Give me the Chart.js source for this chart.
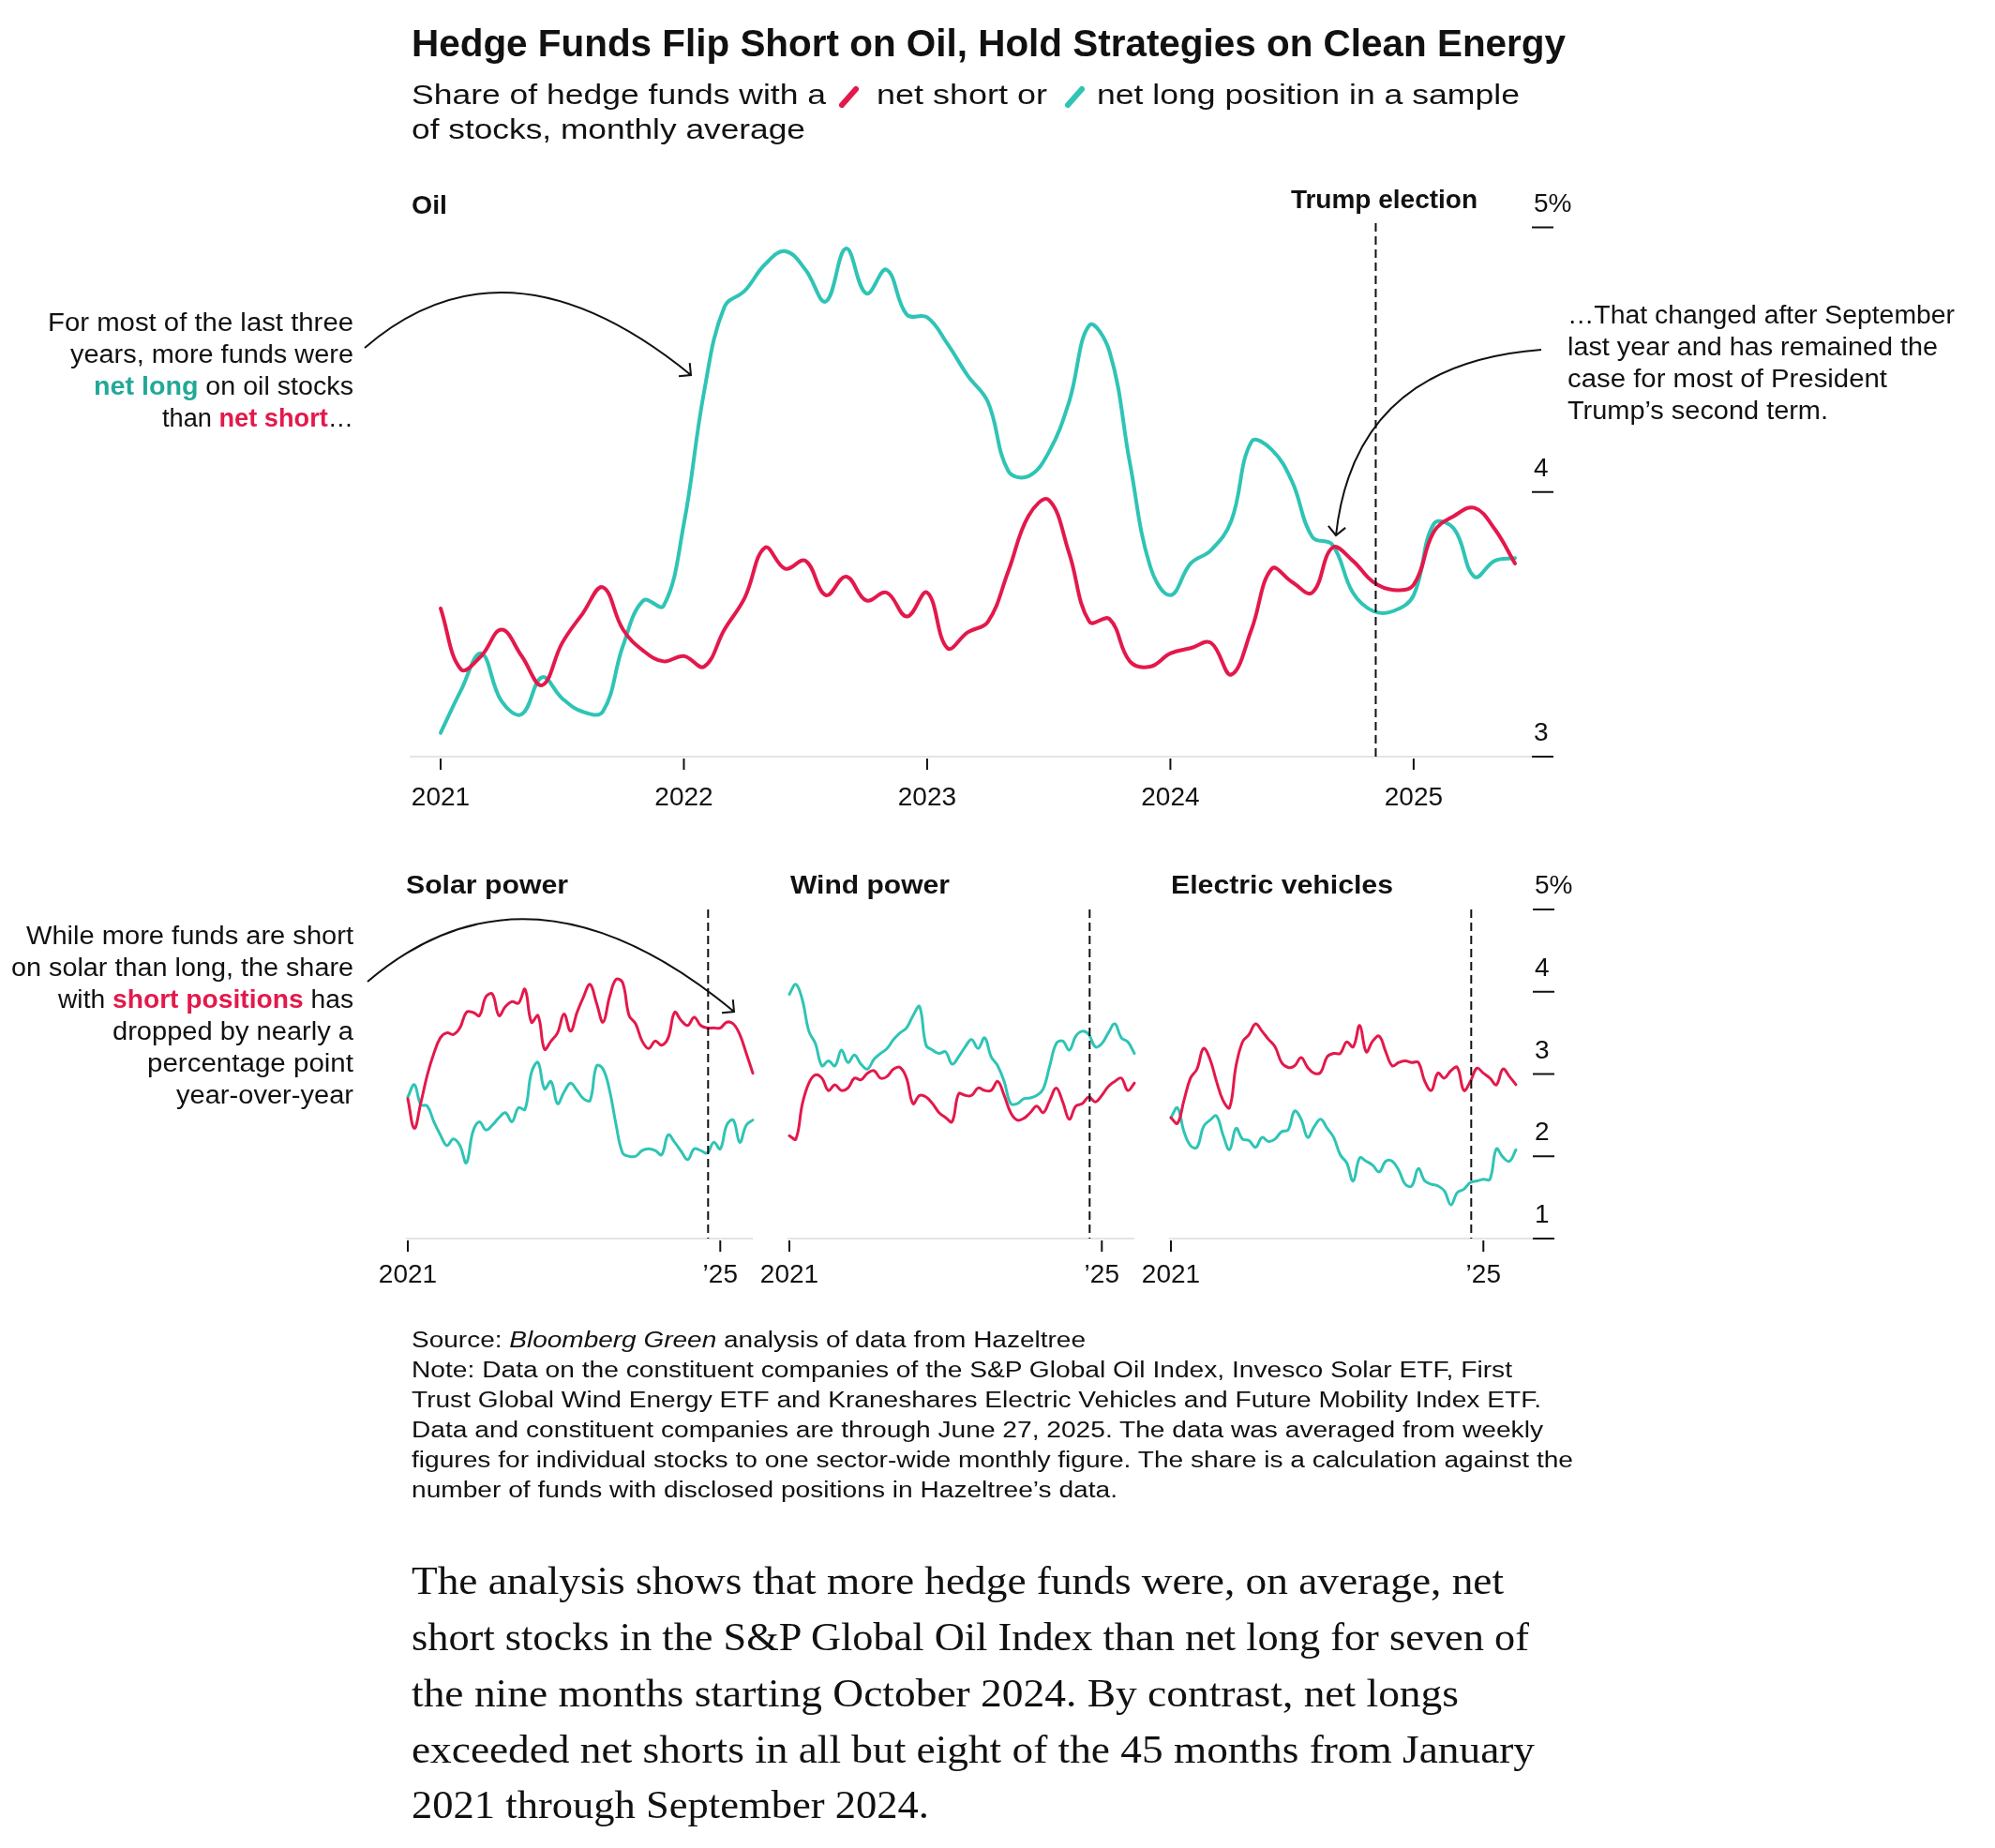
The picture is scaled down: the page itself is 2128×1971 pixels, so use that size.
<!DOCTYPE html>
<html>
<head>
<meta charset="utf-8">
<title>Hedge Funds Flip Short on Oil, Hold Strategies on Clean Energy</title>
<script src="https://cdn.jsdelivr.net/npm/chart.js@4.4.1/dist/chart.umd.min.js"></script>
<style>
  html, body { margin: 0; padding: 0; background: #fff; }
  #page { position: relative; width: 2128px; height: 1971px; overflow: hidden; }
  canvas { position: absolute; }
  #overlay { position: absolute; left: 0; top: 0; }
  #overlay text { font-family: "Liberation Sans", Arial, sans-serif; fill: #111; }
  #overlay .title { font-size: 41px; font-weight: bold; }
  #overlay .sub { font-size: 30px; }
  #overlay .panel { font-size: 28px; font-weight: bold; }
  #overlay .note { font-size: 27px; }
  #overlay .foot { font-size: 23px; }
  #overlay .body { font-family: "Liberation Serif", "DejaVu Serif", serif; font-size: 42px; }
  #overlay .long { font-weight: bold; fill: #22a898; }
  #overlay .short { font-weight: bold; fill: #e3194b; }
  #overlay path { fill: none; stroke: #111; stroke-width: 2; }
</style>
</head>
<body>
<div id="page">
  <canvas id="oil" width="1300" height="700" style="left:420px;top:180px;width:1300px;height:700px"></canvas>
  <canvas id="solar" width="420" height="470" style="left:400px;top:920px;width:420px;height:470px"></canvas>
  <canvas id="wind" width="420" height="470" style="left:810px;top:920px;width:420px;height:470px"></canvas>
  <canvas id="ev" width="505" height="470" style="left:1215px;top:920px;width:505px;height:470px"></canvas>

  <svg id="overlay" width="2128" height="1971">
    <text class="title" x="439" y="60" textLength="1231" lengthAdjust="spacingAndGlyphs">Hedge Funds Flip Short on Oil, Hold Strategies on Clean Energy</text>
    <text class="sub" x="439" y="111" textLength="442" lengthAdjust="spacingAndGlyphs">Share of hedge funds with a</text>
    <line x1="898" y1="112" x2="913" y2="95" stroke="#e3194b" stroke-width="6" stroke-linecap="round"/>
    <text class="sub" x="935" y="111" textLength="182" lengthAdjust="spacingAndGlyphs">net short or</text>
    <line x1="1139" y1="112" x2="1154" y2="95" stroke="#2fc4b5" stroke-width="6" stroke-linecap="round"/>
    <text class="sub" x="1170" y="111" textLength="451" lengthAdjust="spacingAndGlyphs">net long position in a sample</text>
    <text class="sub" x="439" y="148" textLength="420" lengthAdjust="spacingAndGlyphs">of stocks, monthly average</text>

    <text class="panel" x="439" y="228" textLength="38" lengthAdjust="spacingAndGlyphs">Oil</text>
    <text class="panel" x="433" y="953" textLength="173" lengthAdjust="spacingAndGlyphs">Solar power</text>
    <text class="panel" x="843" y="953" textLength="170" lengthAdjust="spacingAndGlyphs">Wind power</text>
    <text class="panel" x="1249" y="953" textLength="237" lengthAdjust="spacingAndGlyphs">Electric vehicles</text>

    <text class="note" x="377" y="353" text-anchor="end" textLength="326" lengthAdjust="spacingAndGlyphs">For most of the last three</text>
    <text class="note" x="377" y="387" text-anchor="end" textLength="302" lengthAdjust="spacingAndGlyphs">years, more funds were</text>
    <text class="note" x="377" y="421" text-anchor="end" textLength="277" lengthAdjust="spacingAndGlyphs"><tspan class="long">net long</tspan> on oil stocks</text>
    <text class="note" x="377" y="455" text-anchor="end" textLength="204" lengthAdjust="spacingAndGlyphs">than <tspan class="short">net short</tspan>…</text>

    <text class="note" x="1672" y="345" textLength="413" lengthAdjust="spacingAndGlyphs">…That changed after September</text>
    <text class="note" x="1672" y="379" textLength="395" lengthAdjust="spacingAndGlyphs">last year and has remained the</text>
    <text class="note" x="1672" y="413" textLength="341" lengthAdjust="spacingAndGlyphs">case for most of President</text>
    <text class="note" x="1672" y="447" textLength="278" lengthAdjust="spacingAndGlyphs">Trump’s second term.</text>

    <text class="note" x="377" y="1007" text-anchor="end" textLength="349" lengthAdjust="spacingAndGlyphs">While more funds are short</text>
    <text class="note" x="377" y="1041" text-anchor="end" textLength="365" lengthAdjust="spacingAndGlyphs">on solar than long, the share</text>
    <text class="note" x="377" y="1075" text-anchor="end" textLength="315" lengthAdjust="spacingAndGlyphs">with <tspan class="short">short positions</tspan> has</text>
    <text class="note" x="377" y="1109" text-anchor="end" textLength="257" lengthAdjust="spacingAndGlyphs">dropped by nearly a</text>
    <text class="note" x="377" y="1143" text-anchor="end" textLength="220" lengthAdjust="spacingAndGlyphs">percentage point</text>
    <text class="note" x="377" y="1177" text-anchor="end" textLength="189" lengthAdjust="spacingAndGlyphs">year-over-year</text>

    <path id="arrowOilLong"/>
    <path id="arrowOilShort"/>
    <path id="arrowSolar"/>

    <text class="foot" x="439" y="1437" textLength="719" lengthAdjust="spacingAndGlyphs">Source: <tspan font-style="italic">Bloomberg Green</tspan> analysis of data from Hazeltree</text>
    <text class="foot" x="439" y="1469" textLength="1174" lengthAdjust="spacingAndGlyphs">Note: Data on the constituent companies of the S&amp;P Global Oil Index, Invesco Solar ETF, First</text>
    <text class="foot" x="439" y="1501" textLength="1205" lengthAdjust="spacingAndGlyphs">Trust Global Wind Energy ETF and Kraneshares Electric Vehicles and Future Mobility Index ETF.</text>
    <text class="foot" x="439" y="1533" textLength="1207" lengthAdjust="spacingAndGlyphs">Data and constituent companies are through June 27, 2025. The data was averaged from weekly</text>
    <text class="foot" x="439" y="1565" textLength="1239" lengthAdjust="spacingAndGlyphs">figures for individual stocks to one sector-wide monthly figure. The share is a calculation against the</text>
    <text class="foot" x="439" y="1597" textLength="753" lengthAdjust="spacingAndGlyphs">number of funds with disclosed positions in Hazeltree’s data.</text>

    <text class="body" x="439" y="1700" textLength="1165" lengthAdjust="spacingAndGlyphs">The analysis shows that more hedge funds were, on average, net</text>
    <text class="body" x="439" y="1760" textLength="1192" lengthAdjust="spacingAndGlyphs">short stocks in the S&amp;P Global Oil Index than net long for seven of</text>
    <text class="body" x="439" y="1820" textLength="1117" lengthAdjust="spacingAndGlyphs">the nine months starting October 2024. By contrast, net longs</text>
    <text class="body" x="439" y="1880" textLength="1198" lengthAdjust="spacingAndGlyphs">exceeded net shorts in all but eight of the 45 months from January</text>
    <text class="body" x="439" y="1939" textLength="552" lengthAdjust="spacingAndGlyphs">2021 through September 2024.</text>
  </svg>
</div>

<script>
// monthly categories, Jan 2021 .. Jun 2025
const months = [];
for (let yr = 2021; yr <= 2025; yr++) {
  for (let m = 1; m <= 12; m++) {
    if (yr === 2025 && m > 6) break;
    months.push(yr + "-" + String(m).padStart(2, "0"));
  }
}

// share of funds (%), net short / net long
const oilShort = [3.56, 3.33, 3.38, 3.48, 3.38, 3.27, 3.43, 3.54, 3.64, 3.48, 3.40, 3.36,
  3.38, 3.34, 3.48, 3.60, 3.79, 3.71, 3.74, 3.61, 3.68, 3.59, 3.62, 3.53,
  3.62, 3.41, 3.47, 3.51, 3.70, 3.91, 3.97, 3.77, 3.51, 3.52, 3.36, 3.34,
  3.39, 3.41, 3.43, 3.31, 3.48, 3.71, 3.66, 3.62, 3.79, 3.74, 3.66, 3.63,
  3.65, 3.85, 3.91, 3.94, 3.86, 3.73];
const oilLong = [3.09, 3.25, 3.39, 3.21, 3.16, 3.30, 3.22, 3.17, 3.17, 3.42, 3.59, 3.57,
  3.88, 4.38, 4.70, 4.76, 4.86, 4.91, 4.84, 4.72, 4.92, 4.75, 4.84, 4.67,
  4.66, 4.56, 4.44, 4.34, 4.08, 4.06, 4.15, 4.34, 4.63, 4.53, 4.11, 3.72,
  3.61, 3.73, 3.78, 3.89, 4.19, 4.16, 4.04, 3.83, 3.80, 3.62, 3.55, 3.55,
  3.61, 3.88, 3.86, 3.68, 3.74, 3.75];

const solarShort = [2.70, 2.34, 2.65, 2.99, 3.25, 3.44, 3.50, 3.48, 3.56, 3.75, 3.75, 3.71,
  3.94, 3.97, 3.71, 3.82, 3.88, 3.86, 4.03, 3.63, 3.71, 3.30, 3.40, 3.50,
  3.73, 3.52, 3.75, 3.94, 4.09, 3.86, 3.63, 3.94, 4.15, 4.11, 3.71, 3.61,
  3.40, 3.31, 3.40, 3.35, 3.44, 3.75, 3.65, 3.59, 3.69, 3.59, 3.56, 3.56,
  3.56, 3.63, 3.61, 3.48, 3.25, 3.01];
const solarLong = [2.72, 2.87, 2.63, 2.61, 2.42, 2.26, 2.13, 2.21, 2.13, 1.92, 2.30, 2.42,
  2.32, 2.38, 2.47, 2.53, 2.42, 2.59, 2.57, 3.02, 3.14, 2.82, 2.91, 2.64,
  2.78, 2.89, 2.80, 2.70, 2.68, 3.10, 3.06, 2.80, 2.38, 2.04, 2.00, 2.00,
  2.07, 2.09, 2.07, 2.02, 2.26, 2.17, 2.06, 1.96, 2.09, 2.07, 2.04, 2.17,
  2.09, 2.38, 2.44, 2.17, 2.38, 2.44];

const windShort = [2.25, 2.21, 2.64, 2.89, 2.99, 2.95, 2.80, 2.87, 2.80, 2.83, 2.95, 2.93,
  3.01, 3.04, 2.95, 2.97, 3.06, 3.08, 2.95, 2.64, 2.74, 2.72, 2.64, 2.53,
  2.47, 2.42, 2.76, 2.74, 2.74, 2.83, 2.80, 2.80, 2.91, 2.74, 2.53, 2.44,
  2.46, 2.53, 2.61, 2.53, 2.68, 2.83, 2.66, 2.45, 2.61, 2.64, 2.72, 2.66,
  2.74, 2.85, 2.91, 2.95, 2.80, 2.89];
const windLong = [3.97, 4.09, 3.90, 3.52, 3.37, 3.10, 3.16, 3.10, 3.29, 3.14, 3.23, 3.12,
  3.06, 3.18, 3.25, 3.31, 3.42, 3.50, 3.56, 3.71, 3.82, 3.35, 3.29, 3.25,
  3.27, 3.12, 3.21, 3.33, 3.42, 3.31, 3.44, 3.21, 3.10, 2.91, 2.64, 2.64,
  2.70, 2.71, 2.74, 2.82, 3.10, 3.37, 3.40, 3.29, 3.46, 3.52, 3.48, 3.33,
  3.37, 3.50, 3.61, 3.44, 3.39, 3.25];

const evShort = [2.47, 2.40, 2.68, 2.95, 3.06, 3.31, 3.18, 2.91, 2.68, 2.59, 3.10, 3.39,
  3.48, 3.61, 3.52, 3.42, 3.33, 3.14, 3.08, 3.10, 3.20, 3.08, 3.01, 3.02,
  3.21, 3.25, 3.25, 3.39, 3.33, 3.59, 3.27, 3.40, 3.46, 3.27, 3.10, 3.14,
  3.16, 3.14, 3.14, 2.91, 2.80, 3.01, 2.95, 3.04, 3.08, 2.80, 2.91, 3.07,
  3.01, 2.95, 2.87, 3.06, 2.97, 2.87];
const evLong = [2.47, 2.59, 2.30, 2.13, 2.11, 2.36, 2.44, 2.49, 2.26, 2.08, 2.34, 2.21,
  2.19, 2.11, 2.23, 2.18, 2.21, 2.30, 2.32, 2.55, 2.45, 2.23, 2.36, 2.45,
  2.34, 2.23, 2.02, 1.92, 1.70, 1.98, 1.94, 1.89, 1.81, 1.94, 1.94, 1.83,
  1.66, 1.64, 1.85, 1.70, 1.66, 1.64, 1.58, 1.41, 1.56, 1.60, 1.68, 1.70,
  1.72, 1.72, 2.09, 1.99, 1.94, 2.08];

// tick positions (month index) and labels
const oilTickMonths = [0, 12, 24, 36, 48];
const oilTickLabels = ["2021", "2022", "2023", "2024", "2025"];
const panelTickMonths = [0, 48];
const panelTickLabels = ["2021", "’25"];
const oilYTicks = [3, 4, 5];
const oilYLabels = ["3", "4", "5%"];
const panelYTicks = [1, 2, 3, 4, 5];
const panelYLabels = ["1", "2", "3", "4", "5%"];
const electionMonth = 46.13; // Nov 5, 2024

const red = "#e3194b";
const teal = "#2fc4b5";
const ink = "#111";
const sans = '"Liberation Sans", Arial, sans-serif';

// axis line, ticks, right-hand value labels and the election marker
const frame = {
  id: "frame",
  beforeDatasetsDraw(chart, args, o) {
    const { ctx, chartArea: a, scales: { x, y } } = chart;
    const base = y.getPixelForValue(y.min);
    ctx.save();
    ctx.lineWidth = 2;
    ctx.strokeStyle = "#e4e4e4";
    ctx.beginPath();
    ctx.moveTo(a.left + o.baseFrom, base);
    ctx.lineTo(a.right + o.baseTo, base);
    ctx.stroke();

    ctx.strokeStyle = ink;
    ctx.fillStyle = ink;
    ctx.font = "28px " + sans;
    ctx.textAlign = "center";
    o.xTicks.forEach((m, k) => {
      const px = x.getPixelForValue(m);
      ctx.beginPath();
      ctx.moveTo(px, base + 2);
      ctx.lineTo(px, base + 14);
      ctx.stroke();
      ctx.fillText(o.xLabels[k], px, base + o.labelGap);
    });

    if (o.yTicks) {
      ctx.textAlign = "left";
      o.yTicks.forEach((v, k) => {
        const py = y.getPixelForValue(v);
        ctx.beginPath();
        ctx.moveTo(a.right + 18, py);
        ctx.lineTo(a.right + 41, py);
        ctx.stroke();
        ctx.fillText(o.yLabels[k], a.right + 20, py - 17);
      });
    }
    ctx.restore();
  },
  afterDatasetsDraw(chart, args, o) {
    const { ctx, chartArea: a, scales: { x, y } } = chart;
    const px = x.getPixelForValue(electionMonth);
    ctx.save();
    ctx.strokeStyle = ink;
    ctx.lineWidth = 2;
    ctx.setLineDash([9, 5]);
    ctx.beginPath();
    ctx.moveTo(px, a.top - o.electionAbove);
    ctx.lineTo(px, y.getPixelForValue(y.min));
    ctx.stroke();
    if (o.electionLabel) {
      ctx.fillStyle = ink;
      ctx.font = "bold 28px " + sans;
      ctx.textAlign = "center";
      ctx.fillText(o.electionLabel, px + 9, a.top - 21);
    }
    ctx.restore();
  }
};

function buildChart(id, pad, yMin, yMax, shortData, longData, width, frameOpts) {
  return new Chart(document.getElementById(id), {
    type: "line",
    data: {
      labels: months,
      datasets: [
        { data: shortData, borderColor: red, borderWidth: width },
        { data: longData, borderColor: teal, borderWidth: width }
      ]
    },
    options: {
      responsive: false,
      animation: false,
      layout: { padding: pad },
      elements: {
        point: { radius: 0 },
        line: { tension: 0.4, borderCapStyle: "round", borderJoinStyle: "round", fill: false }
      },
      datasets: { line: { clip: false } },
      scales: {
        x: { type: "category", display: false, offset: false },
        y: { type: "linear", display: false, min: yMin, max: yMax }
      },
      plugins: {
        legend: { display: false },
        tooltip: { enabled: false },
        frame: frameOpts
      }
    },
    plugins: [frame]
  });
}

buildChart("oil", { left: 50, right: 104, top: 62.5, bottom: 73 }, 3, 5, oilShort, oilLong, 4, {
  baseFrom: -33, baseTo: 18, xTicks: oilTickMonths, xLabels: oilTickLabels, labelGap: 52,
  yTicks: oilYTicks, yLabels: oilYLabels, electionAbove: 4.5, electionLabel: "Trump election"
});
buildChart("solar", { left: 35, right: 17, top: 50, bottom: 69 }, 1, 5, solarShort, solarLong, 3, {
  baseFrom: -2, baseTo: 0, xTicks: panelTickMonths, xLabels: panelTickLabels, labelGap: 47,
  yTicks: null, electionAbove: 0, electionLabel: ""
});
buildChart("wind", { left: 32, right: 20, top: 50, bottom: 69 }, 1, 5, windShort, windLong, 3, {
  baseFrom: -2, baseTo: 0, xTicks: panelTickMonths, xLabels: panelTickLabels, labelGap: 47,
  yTicks: null, electionAbove: 0, electionLabel: ""
});
buildChart("ev", { left: 34, right: 103, top: 50, bottom: 69 }, 1, 5, evShort, evLong, 3, {
  baseFrom: -2, baseTo: 18, xTicks: panelTickMonths, xLabels: panelTickLabels, labelGap: 47,
  yTicks: panelYTicks, yLabels: panelYLabels, electionAbove: 0, electionLabel: ""
});

// curved annotation arrows with open heads
function arrow(x0, y0, cx, cy, x1, y1) {
  const ang = Math.atan2(y1 - cy, x1 - cx);
  const len = 13, spread = Math.PI / 4;
  const h1 = [x1 - len * Math.cos(ang - spread), y1 - len * Math.sin(ang - spread)];
  const h2 = [x1 - len * Math.cos(ang + spread), y1 - len * Math.sin(ang + spread)];
  return `M${x0},${y0} Q${cx},${cy} ${x1},${y1} M${h1[0]},${h1[1]} L${x1},${y1} L${h2[0]},${h2[1]}`;
}
document.getElementById("arrowOilLong").setAttribute("d", arrow(389, 371, 541, 240, 737, 400));
document.getElementById("arrowOilShort").setAttribute("d", arrow(1644, 373, 1445, 388, 1425, 571));
document.getElementById("arrowSolar").setAttribute("d", arrow(392, 1047, 566, 899, 783, 1079));
</script>
</body>
</html>
